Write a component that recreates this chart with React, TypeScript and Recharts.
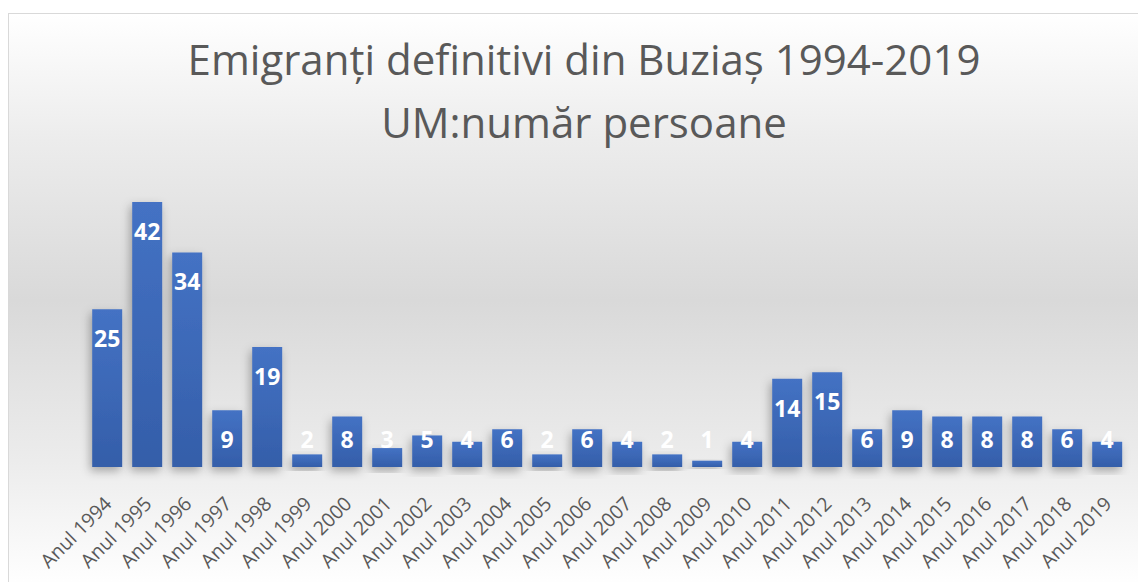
import React from "react";
import { BarChart, Bar, XAxis, YAxis, LabelList } from "recharts";

const years = [
  "Anul 1994", "Anul 1995", "Anul 1996", "Anul 1997", "Anul 1998", "Anul 1999",
  "Anul 2000", "Anul 2001", "Anul 2002", "Anul 2003", "Anul 2004", "Anul 2005",
  "Anul 2006", "Anul 2007", "Anul 2008", "Anul 2009", "Anul 2010", "Anul 2011",
  "Anul 2012", "Anul 2013", "Anul 2014", "Anul 2015", "Anul 2016", "Anul 2017",
  "Anul 2018", "Anul 2019",
];
const emigrants = [
  25, 42, 34, 9, 19, 2, 8, 3, 5, 4, 6, 2, 6, 4, 2, 1, 4, 14, 15, 6, 9, 8, 8, 8, 6, 4,
];
const titleLines = ["Emigranți definitivi din Buziaș 1994-2019", "UM:număr persoane"];

const data = years.map((year, i) => ({ year, value: emigrants[i] }));

const W = 1152;
const H = 575;
const FONT = "'Open Sans', sans-serif";

function YearTick(props: any) {
  const { x, y, payload } = props;
  const tx = x + 6;
  const ty = y + 30;
  return (
    <text
      x={tx}
      y={ty}
      transform={`rotate(-45, ${tx}, ${ty})`}
      textAnchor="end"
      fill="#595959"
      fontSize={19.5}
      fontFamily={FONT}
    >
      {payload.value}
    </text>
  );
}

function ValueLabel(props: any) {
  const { x, y, width, height, value } = props;
  const base = y + height;
  const cy = Math.min(y + 30, base - 27);
  return (
    <text
      x={x + width / 2}
      y={cy}
      dy={8}
      textAnchor="middle"
      fill="#ffffff"
      fontSize={23}
      fontWeight={700}
      fontFamily={FONT}
    >
      {value}
    </text>
  );
}

export default function App() {
  return (
    <div
      style={{
        position: "relative",
        width: W,
        height: H,
        marginTop: 5,
        boxSizing: "border-box",
        border: "1px solid #d9d9d9",
        background:
          "linear-gradient(to bottom, #ffffff 0%, #ececec 22%, #d9d9d9 50%, #ececec 78%, #ffffff 100%)",
        fontFamily: FONT,
      }}
    >
      <svg
        width={W}
        height={160}
        style={{ position: "absolute", left: 0, top: 0 }}
      >
        <text x={W / 2 - 1} y={61} textAnchor="middle" fill="#595959" fontSize={42} fontFamily={FONT}>
          {titleLines[0]}
        </text>
        <text x={W / 2 - 1} y={124} textAnchor="middle" fill="#595959" fontSize={42} fontFamily={FONT}>
          {titleLines[1]}
        </text>
      </svg>
      <BarChart
        width={W - 2}
        height={H - 2}
        data={data}
        margin={{ top: 169, right: 32, left: 78, bottom: 20 }}
        barCategoryGap="13%"
        style={{ position: "absolute", left: 0, top: 0 }}
      >
        <defs>
          <linearGradient id="barFill" x1="0" y1="0" x2="0" y2="1">
            <stop offset="0%" stopColor="#4472c4" />
            <stop offset="100%" stopColor="#345ea9" />
          </linearGradient>
          <filter id="barShadow" x="-50%" y="-20%" width="200%" height="150%">
            <feDropShadow dx={-2} dy={4} stdDeviation={5} floodColor="#000000" floodOpacity={0.3} />
          </filter>
        </defs>
        <XAxis
          dataKey="year"
          interval={0}
          axisLine={false}
          tickLine={false}
          height={100}
          tick={<YearTick />}
        />
        <YAxis hide domain={[0, 45]} />
        <Bar
          dataKey="value"
          fill="url(#barFill)"
          filter="url(#barShadow)"
          isAnimationActive={false}
        >
          <LabelList dataKey="value" content={<ValueLabel />} />
        </Bar>
      </BarChart>
    </div>
  );
}
